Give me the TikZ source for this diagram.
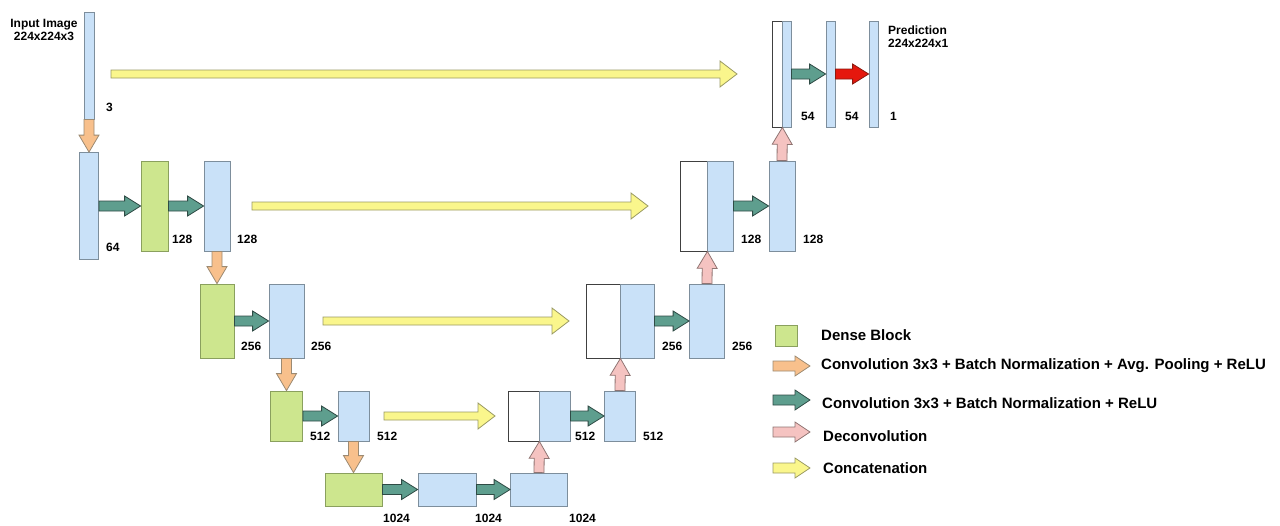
\documentclass[tikz,border=0pt]{standalone}
\usepackage{fontspec}
\setmainfont{Liberation Sans}
\usetikzlibrary{calc}

\definecolor{bluefill}{HTML}{C9E1F8}
\definecolor{blueline}{HTML}{7D8E9C}
\definecolor{greenfill}{HTML}{CDE68E}
\definecolor{greenline}{HTML}{8AA05E}
\definecolor{tealfill}{HTML}{5E9E8E}
\definecolor{tealline}{HTML}{2F4B45}
\definecolor{orangefill}{HTML}{F8C08C}
\definecolor{orangeline}{HTML}{9C8A72}
\definecolor{pinkfill}{HTML}{F5C3C1}
\definecolor{pinkline}{HTML}{8F7472}
\definecolor{yellowfill}{HTML}{FAF68C}
\definecolor{yellowline}{HTML}{9A9A62}
\definecolor{redfill}{HTML}{E5170D}
\definecolor{redline}{HTML}{8A1A10}

\tikzset{
  ba shaft/.store in=\bashaft, ba head/.store in=\bahead, ba len/.store in=\balen,
  ba shaft=5pt, ba head=10pt, ba len=16pt,
  box/.style 2 args={minimum width=#1pt, minimum height=#2pt},
  fmap/.style={draw=blueline, fill=bluefill, inner sep=0pt, line width=0.8pt},
  dense/.style={fmap, draw=greenline, fill=greenfill},
  skipbox/.style={fmap, draw=black!75, fill=white},
  num/.style={font=\bfseries\fontsize{12}{13}\selectfont, inner sep=0pt},
  legtext/.style={font=\bfseries\fontsize{15}{17}\selectfont, anchor=west, inner sep=0pt},
  convpool/.style={fill=orangefill, draw=orangeline, ba len=17pt},
  convbn/.style={fill=tealfill, draw=tealline},
  deconv/.style={fill=pinkfill, draw=pinkline, ba len=17pt},
  concat/.style={fill=yellowfill, draw=yellowline, ba shaft=4pt, ba head=13pt, ba len=17pt},
  predict/.style={fill=redfill, draw=redline},
}

% fat arrow from #2 to #3
\newcommand{\blockarrow}[3][]{%
  \begin{scope}[line width=0.8pt,#1]
    \coordinate (bah) at ($(#3)!\balen!(#2)$);
    \filldraw[#1] ($(#2)!\bashaft!90:(#3)$) -- ($(bah)!\bashaft!90:(#3)$)
      -- ($(bah)!\bahead!90:(#3)$) -- (#3) -- ($(bah)!\bahead!-90:(#3)$)
      -- ($(bah)!\bashaft!-90:(#3)$) -- ($(#2)!\bashaft!-90:(#3)$) -- cycle;
  \end{scope}}

\begin{document}
\begin{tikzpicture}[x=1pt,y=-1pt]
\useasboundingbox (0,0) rectangle (1280,525);

% encoder
\node[fmap, box={10}{107}] (in) at (89,65.5) {};
\node[fmap, box={19}{107}] (e1) at (89,206) {};
\node[dense, box={27}{90}] (d1) at (154.5,206) {};
\node[fmap, box={26}{90}] (e2) at (217,206) {};
\node[dense, box={34}{74}] (d2) at (217,321) {};
\node[fmap, box={35}{74}] (e3) at (286.5,321) {};
\node[dense, box={32}{50}] (d3) at (286.5,416) {};
\node[fmap, box={31}{50}] (e4) at (353.5,416) {};
\node[dense, box={57}{33}] (d4) at (353.5,489.5) {};
\node[fmap, box={58}{33}] (b1) at (447,489.5) {};
\node[fmap, box={57}{33}] (b2) at (539,489.5) {};

% decoder
\node[skipbox, box={31}{50}] (c4w) at (523.5,416) {};
\node[fmap, box={31}{50}] (c4) at (554.5,416) {};
\node[fmap, box={31}{50}] (u4) at (620,416) {};
\node[skipbox, box={34}{74}] (c3w) at (603,321) {};
\node[fmap, box={34}{74}] (c3) at (637,321) {};
\node[fmap, box={35}{74}] (u3) at (707,321) {};
\node[skipbox, box={27}{90}] (c2w) at (693.5,206) {};
\node[fmap, box={26}{90}] (c2) at (720,206) {};
\node[fmap, box={26}{90}] (u2) at (782,206) {};
\node[skipbox, box={10}{106}] (c1w) at (777,74) {};
\node[fmap, box={9}{106}] (c1) at (786.5,74) {};
\node[fmap, box={9}{106}] (u1) at (830.5,74) {};
\node[fmap, box={9}{106}] (out) at (873.5,74) {};

% connectors
\blockarrow[convpool]{in.south}{e1.north}
\blockarrow[convpool]{e2.south}{d2.north}
\blockarrow[convpool]{e3.south}{d3.north}
\blockarrow[convpool]{e4.south}{d4.north}
\foreach \a/\b in {e1/d1,d1/e2,d2/e3,d3/e4,d4/b1,b1/b2,c4/u4,c3/u3,c2/u2,c1/u1}
  \blockarrow[convbn]{\a.east}{\b.west};
\blockarrow[predict]{u1.east}{out.west}
\blockarrow[deconv]{b2.north}{c4w.south east}
\blockarrow[deconv]{u4.north}{c3w.south east}
\blockarrow[deconv]{u3.north}{c2w.south east}
\blockarrow[deconv]{u2.north}{c1w.south east}

% skip connections
\foreach \i/\xa/\xb/\y in {1/111/737/74, 2/252/648/206, 3/323/569/321, 4/384/495/416} {
  \coordinate (sk\i) at (\xa,\y);
  \coordinate (sj\i) at (\xb,\y);
  \blockarrow[concat]{sk\i}{sj\i}
}

% labels
\node[num, align=center] (intxt) at (44,29.5) {Input Image\\224x224x3};
\node[num, align=left, anchor=west] (outtxt) at (888,37) {Prediction\\224x224x1};
\foreach \x/\y/\t [count=\i] in {106/107/3, 106/247/64, 172/239/128, 237/239/128,
    241/346/256, 311/346/256, 310/436/512, 377/436/512, 383/518/1024, 475/518/1024,
    569/518/1024, 575/436/512, 643/436/512, 662/346/256, 732/346/256, 741/239/128,
    803/239/128, 801/116/54, 845/116/54, 890/116/1}
  \node[num, anchor=west] (n\i) at (\x,\y) {\t};

% legend
\node[dense, box={22}{21}] (lgd) at (786,335.5) {};
\node[legtext] (lt1) at (821,335) {Dense Block};
\node[legtext] (lt2) at (821,366) {Convolution 3x3 + Batch Normalization + Avg. Pooling + ReLU};
\node[legtext] (lt3) at (822,403) {Convolution 3x3 + Batch Normalization + ReLU};
\node[legtext] (lt4) at (823,436) {Deconvolution};
\node[legtext] (lt5) at (823,468) {Concatenation};
\foreach \st/\y [count=\i] in {convpool/366, convbn/400, deconv/432, concat/468} {
  \coordinate (la\i) at (773,\y);
  \coordinate (lb\i) at (810,\y);
  \blockarrow[\st, ba shaft=5pt, ba head=10pt, ba len=15pt]{la\i}{lb\i}
}
\end{tikzpicture}
\end{document}
